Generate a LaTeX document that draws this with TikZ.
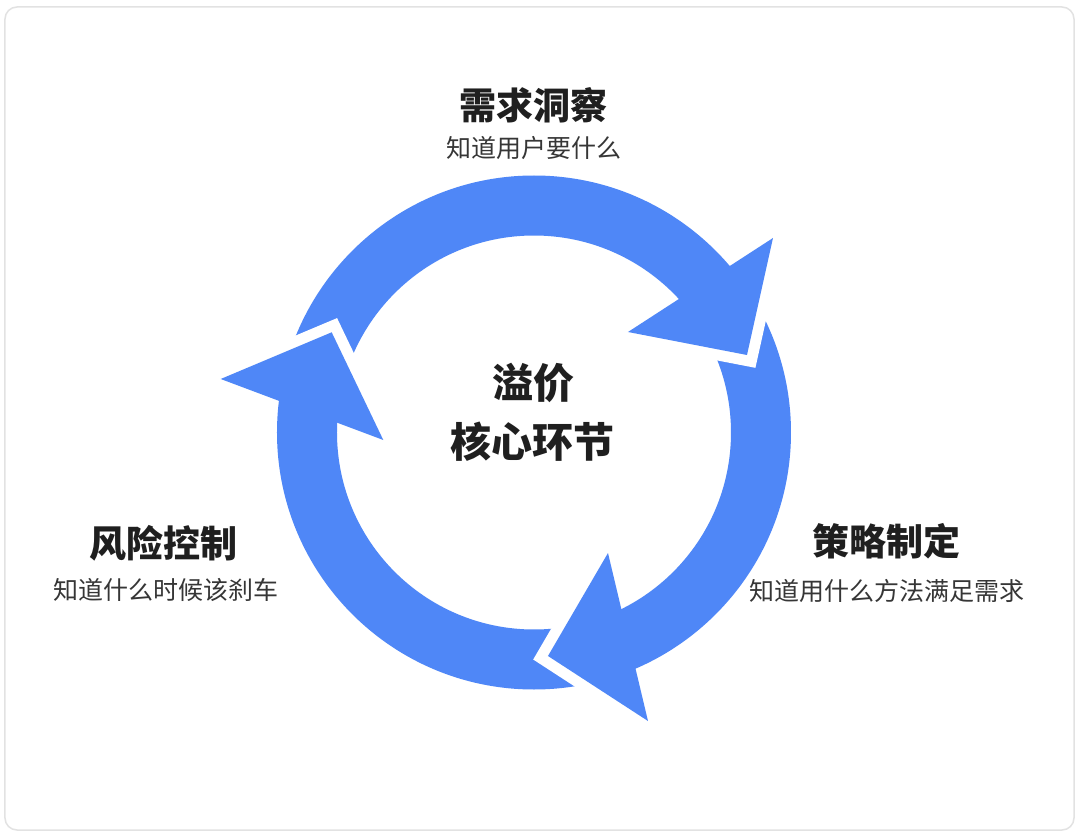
\documentclass[tikz,border=0pt]{standalone}
\usepackage{fontspec}
\setmainfont{Noto Sans CJK SC}
\definecolor{ringblue}{HTML}{4F87F7}
\definecolor{titlecol}{HTML}{1F1F1F}
\definecolor{subcol}{HTML}{363636}
\definecolor{bordercol}{HTML}{E2E2E2}
\begin{document}
\begin{tikzpicture}[x=1pt,y=1pt,
  gapline/.style={draw=white,line width=22pt,line join=miter,miter limit=10},
  headfill/.style={fill=ringblue},
  titletext/.style={font=\fontsize{37}{44}\selectfont\bfseries,text=titlecol},
  subtext/.style={font=\fontsize{25}{30}\selectfont,text=subcol},
  centertext/.style={font=\fontsize{41}{48}\selectfont\bfseries,text=titlecol}]
\useasboundingbox (-534,-403.5) rectangle (546,432.5);
\fill[white] (-534,-403.5) rectangle (546,432.5);
\draw[draw=bordercol,line width=1.5pt,rounded corners=12pt] (-529,-397.5) rectangle (540,425.5);
% ring
\fill[ringblue,even odd rule] (0,0) circle (257pt) (0,0) circle (197pt);
% head coordinates
\coordinate (h1o) at (239,194.5);
\coordinate (h1i) at (94,100.5);
\coordinate (h1t) at (213,77.5);
\coordinate (h2i) at (74,-120.5);
\coordinate (h2o) at (114,-288.5);
\coordinate (h2t) at (14,-223.5);
\coordinate (h3o) at (-313.3,53.5);
\coordinate (h3i) at (-150.7,-7.5);
\coordinate (h3t) at (-202.3,100.2);
% heads
\draw[gapline] (h1o) -- (h1t) -- (h1i);
\fill[headfill] (h1o) -- (h1t) -- (h1i) -- cycle;
\draw[gapline] (h2i) -- (h2t) -- (h2o);
\fill[headfill] (h2i) -- (h2t) -- (h2o) -- cycle;
\draw[gapline] (h3o) -- (h3t) -- (h3i);
\fill[headfill] (h3o) -- (h3t) -- (h3i) -- cycle;
% texts
\node[titletext] (t1) at (0,327.5) {需求洞察};
\node[subtext] (s1) at (0,284.5) {知道用户要什么};
\node[titletext] (t2) at (352.7,-108.5) {策略制定};
\node[subtext] (s2) at (353.5,-158.5) {知道用什么方法满足需求};
\node[titletext] (t3) at (-370,-110.5) {风险控制};
\node[subtext] (s3) at (-368.4,-157) {知道什么时候该刹车};
\node[centertext] (c1) at (0,49.5) {溢价};
\node[centertext] (c2) at (-1,-9.5) {核心环节};
\end{tikzpicture}
\end{document}
